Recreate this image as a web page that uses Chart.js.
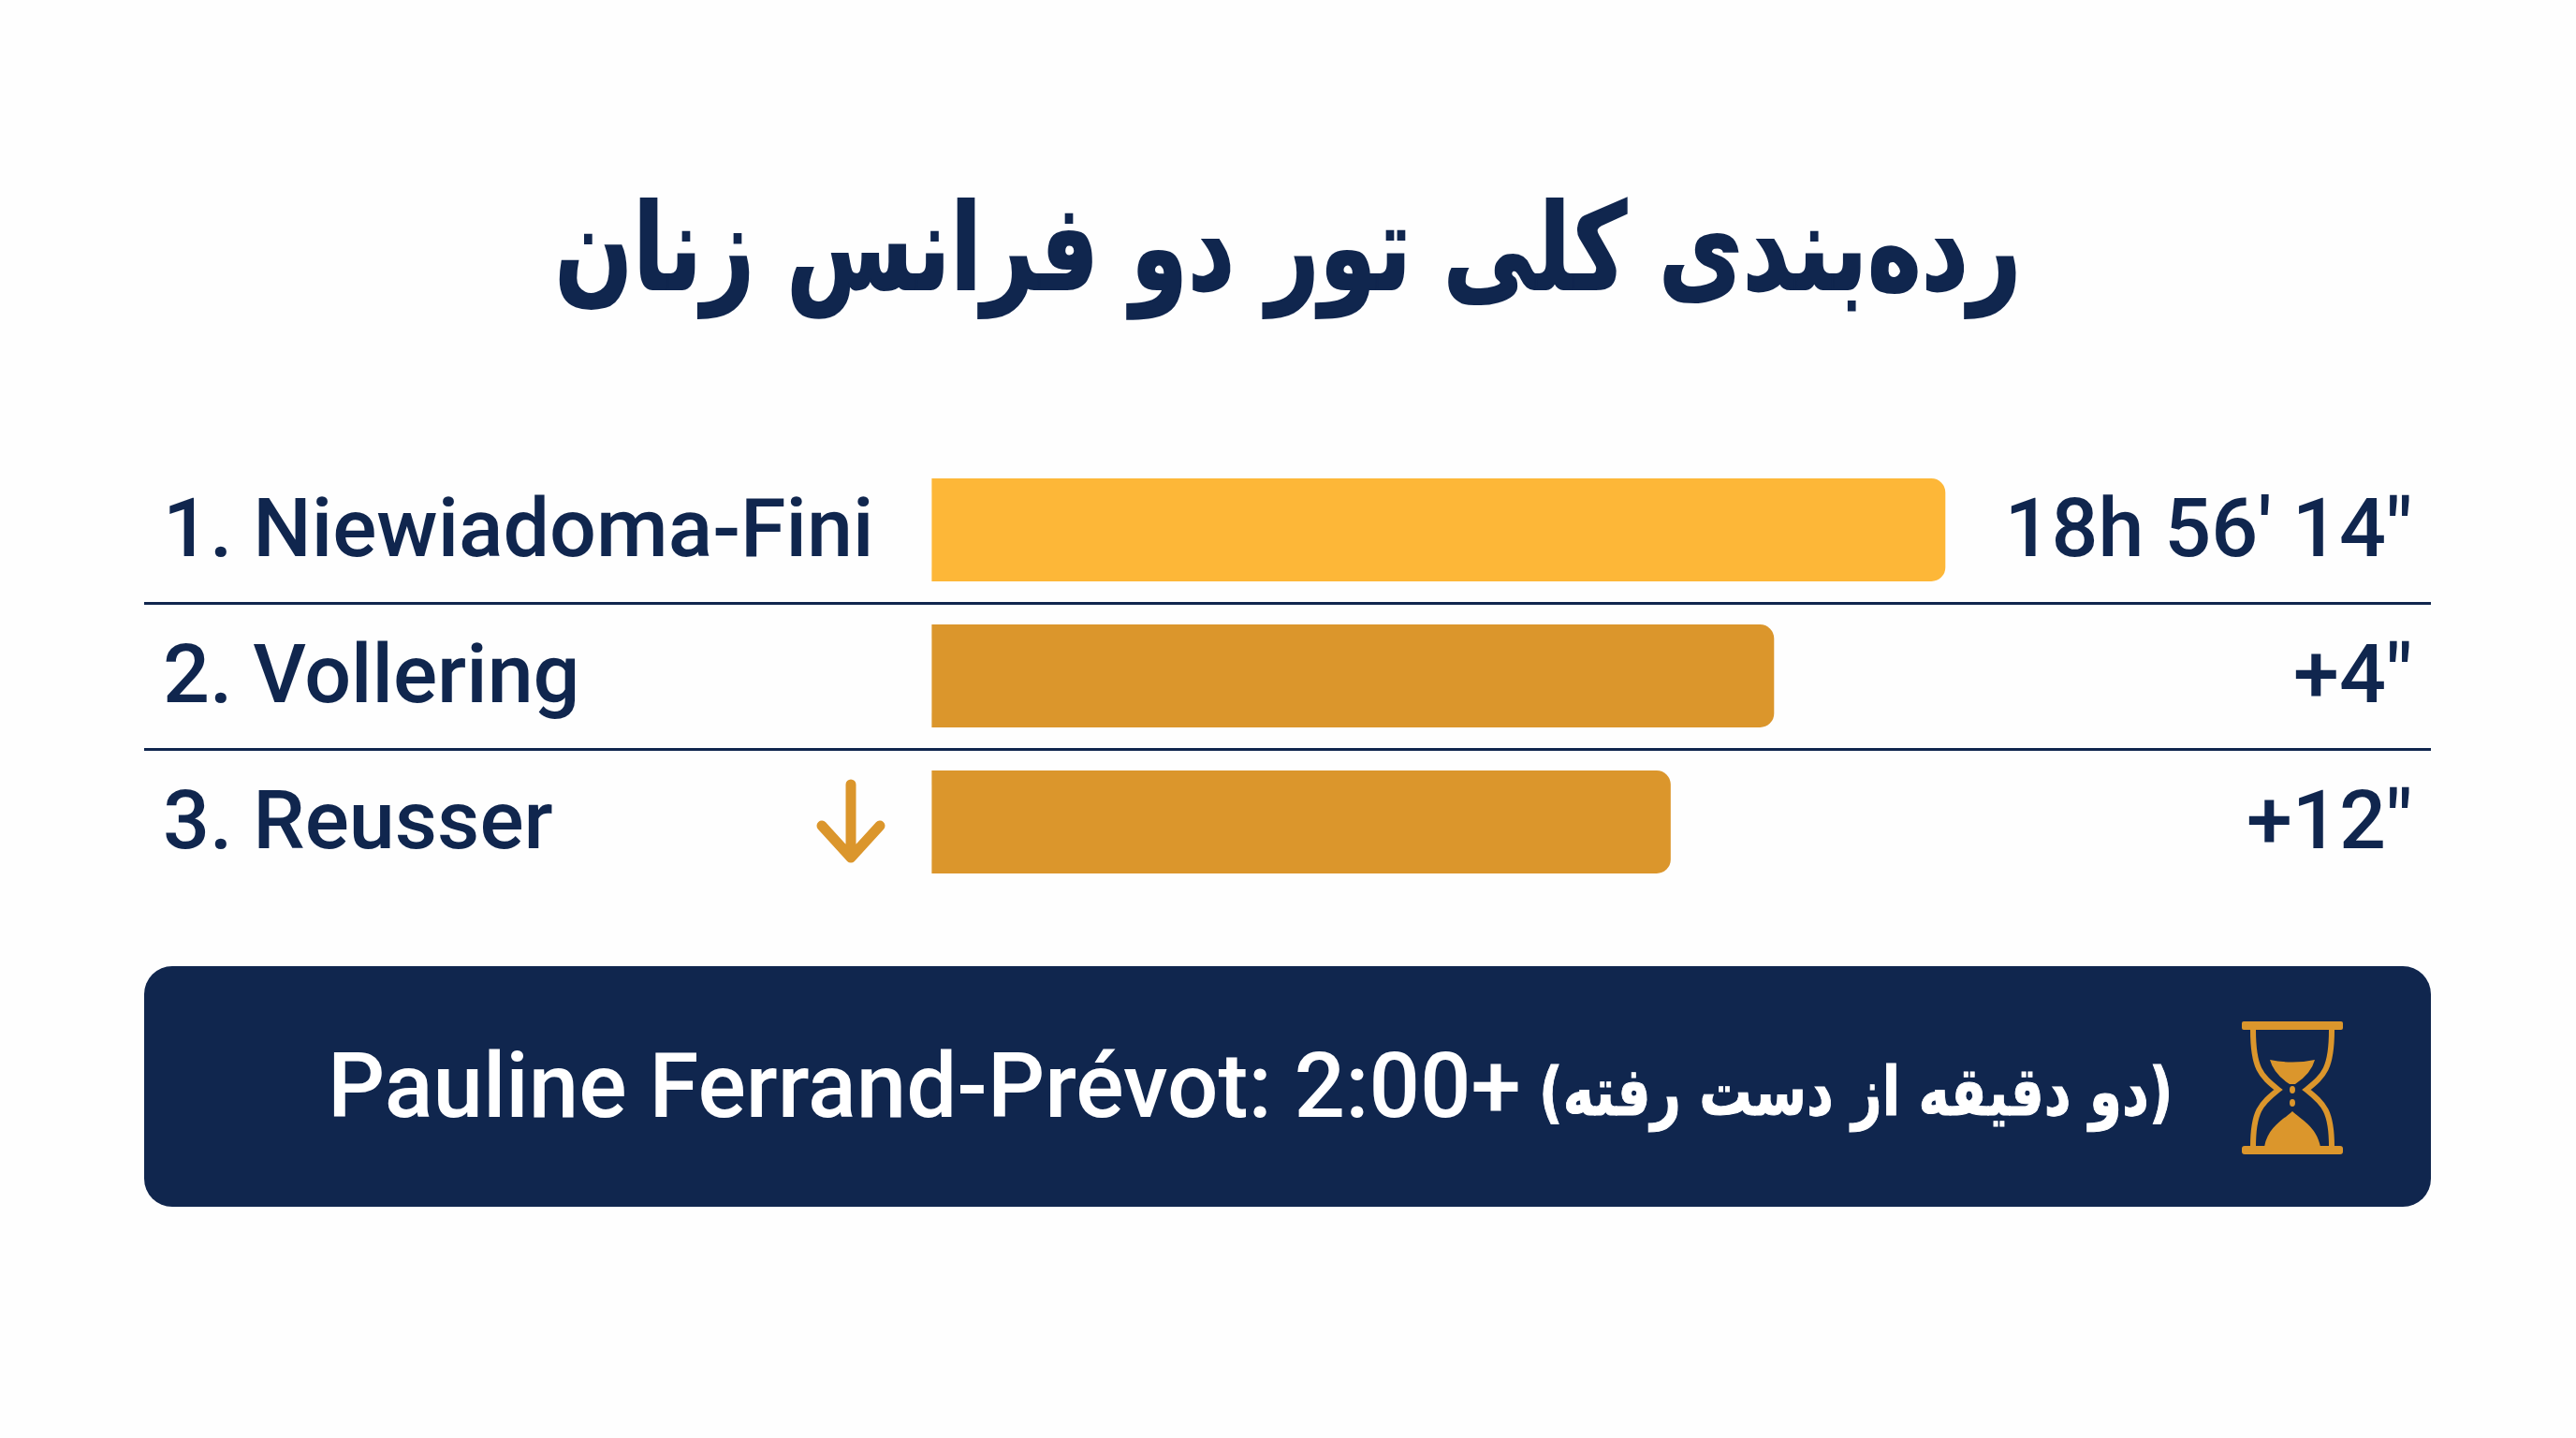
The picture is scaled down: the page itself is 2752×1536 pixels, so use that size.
<!DOCTYPE html>
<html>
<head>
<meta charset="utf-8">
<script src="https://cdn.jsdelivr.net/npm/chart.js@4"></script>
<style>
  html, body { margin: 0; padding: 0; background: #fefefe; }
  #stage { position: relative; width: 2752px; height: 1536px; overflow: hidden; }
  #gcChart { position: absolute; left: 0; top: 0; }
  #title {
    position: absolute; left: 0; top: 190px; width: 2752px; text-align: center;
    font: bold 128px/150px "DejaVu Sans"; color: #10264e; white-space: nowrap;
    transform: scaleX(0.765); -webkit-text-stroke: 2px #10264e;
  }
  #arrow { position: absolute; left: 870px; top: 830px; }
  #panel {
    position: absolute; left: 154px; top: 1032px; width: 2443px; height: 257px;
    background: #10264e; border-radius: 30px; color: #ffffff;
  }
  #panelLatin { position: absolute; left: 196px; top: 71px; font: 500 96px Roboto; white-space: nowrap; line-height: 114px; }
  #panelPersian {
    position: absolute; left: 1490px; top: 77px; font: bold 72px "DejaVu Sans"; white-space: nowrap; line-height: 114px;
    transform: scaleX(0.78); transform-origin: left center; -webkit-text-stroke: 1px #ffffff;
  }
  #hourglass { position: absolute; left: 2241px; top: 59px; }
</style>
</head>
<body>
<div id="stage">
  <canvas id="gcChart" width="2752" height="1536"></canvas>
  <div id="title">رده‌بندی کلی تور دو فرانس زنان</div>
  <svg id="arrow" width="78" height="96" viewBox="0 0 78 96">
    <path d="M39 8 V86 M8 52 L39 86 L70 52" fill="none" stroke="#db962c" stroke-width="11" stroke-linecap="round" stroke-linejoin="round"/>
  </svg>
  <div id="panel">
    <div id="panelLatin">Pauline Ferrand-Prévot: 2:00+</div>
    <div id="panelPersian" dir="ltr">(دو دقیقه از دست رفته)</div>
    <svg id="hourglass" width="110" height="142" viewBox="0 0 110 142">
      <g fill="#db962c">
        <rect x="0" y="0" width="108" height="9" rx="2"/>
        <rect x="0" y="133" width="108" height="9" rx="3"/>
        <path d="M30 41 Q54 46 78 41 Q74 56 57 67 H51 Q34 56 30 41 Z"/>
        <path d="M54 96 C62 104 80 112 84 134 H24 C28 112 46 104 54 96 Z"/>
        <ellipse cx="54" cy="73" rx="3" ry="4"/>
        <ellipse cx="54" cy="87" rx="3" ry="4"/>
      </g>
      <g fill="none" stroke="#db962c" stroke-width="6">
        <path d="M12 9 C12 50 20 58 39 73 C20 88 12 96 12 134"/>
        <path d="M96 9 C96 50 88 58 69 73 C88 88 96 96 96 134"/>
      </g>
    </svg>
  </div>
</div>

<script>
const NAVY = "#10264e";
const LEADER_GOLD = "#fdb738";
const CHASER_GOLD = "#db962c";
const ROW_FONT = { family: "Roboto", size: 88, weight: "500" };

const riders = ["1. Niewiadoma-Fini", "2. Vollering", "3. Reusser"];
const gaps = ["18h 56' 14\"", "+4\"", "+12\""];
// bar lengths as drawn, relative to the leader = 100
const barValues = [100, 83.1, 72.9];
const barColors = [LEADER_GOLD, CHASER_GOLD, CHASER_GOLD];

// times at the right end of each row
const gapLabels = {
  id: "gapLabels",
  afterDatasetsDraw(chart) {
    const { ctx, chartArea, scales } = chart;
    ctx.save();
    ctx.fillStyle = NAVY;
    ctx.font = `${ROW_FONT.weight} ${ROW_FONT.size}px ${ROW_FONT.family}`;
    ctx.textAlign = "right";
    ctx.textBaseline = "middle";
    gaps.forEach((gap, i) => {
      ctx.fillText(gap, chartArea.right - 20, scales.y.getPixelForValue(i) + 6);
    });
    ctx.restore();
  }
};

new Chart(document.querySelector("#gcChart"), {
  type: "bar",
  plugins: [gapLabels],
  data: {
    labels: riders,
    datasets: [
      {
        data: barValues,
        backgroundColor: barColors,
        borderSkipped: false,
        borderRadius: { topLeft: 0, bottomLeft: 0, topRight: 15, bottomRight: 15 },
        barPercentage: 0.705,
        categoryPercentage: 1
      }
    ]
  },
  options: {
    indexAxis: "y",
    responsive: false,
    animation: false,
    layout: {
      // the mirrored y axis still reserves twice its tick padding
      padding: { left: 114, right: 155, top: 488, bottom: 580 }
    },
    plugins: {
      legend: { display: false },
      tooltip: { enabled: false }
    },
    scales: {
      x: {
        display: false,
        min: -77.7,
        max: 147.9
      },
      y: {
        position: "left",
        offset: true,
        border: { display: false },
        grid: {
          drawTicks: false,
          lineWidth: 3,
          color: ctx => (ctx.index === 1 || ctx.index === 2 ? NAVY : "transparent")
        },
        ticks: {
          mirror: true,
          padding: 20,
          labelOffset: 6,
          color: NAVY,
          font: ROW_FONT
        }
      }
    }
  }
});
</script>
</body>
</html>
